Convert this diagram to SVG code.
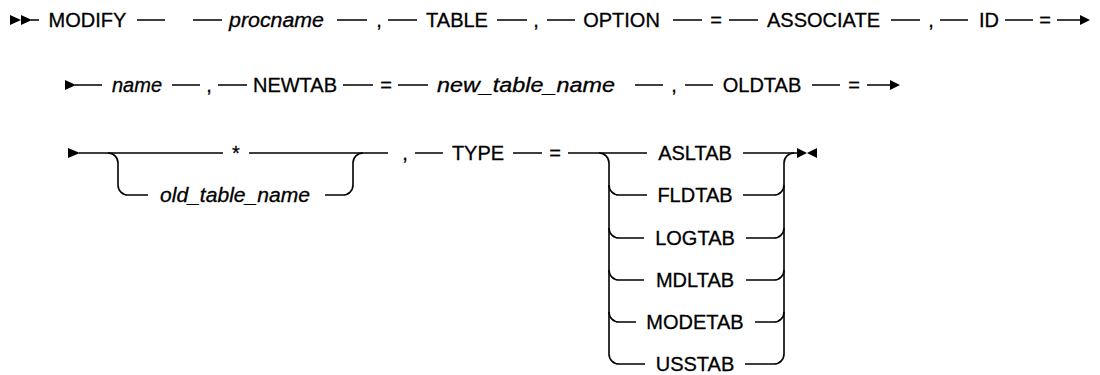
<svg xmlns="http://www.w3.org/2000/svg" width="1100" height="375" viewBox="0 0 1100 375">
<style>
.t{font-family:"Liberation Sans",Arial,sans-serif;font-size:20px;fill:#000;stroke:#000;stroke-width:0.3;text-anchor:middle}
.i{font-style:italic}
.c path{fill:none;stroke:#000;stroke-width:1.6}
.c polygon{fill:#000;stroke:none}
</style>
<rect width="1100" height="375" fill="#fff"/>
<g id="connectors" class="c">
<!-- row 1 -->
<polygon points="10,15 21,20 10,25"/>
<polygon points="21,15 32,20 21,25"/>
<path d="M31 20H39 M137 20H165 M193 20H222 M337 20H367 M388 20H417 M497 20H527 M547 20H575 M673 20H702 M729 20H758 M891 20H920 M940 20H968 M1005 20H1033 M1057 20H1082"/>
<polygon points="1080,15 1090,20 1080,25"/>
<!-- row 2 -->
<polygon points="65,80 76,85 65,90"/>
<path d="M75 85H102 M172 85H200 M218 85H247 M343 85H373 M398 85H428 M635 85H663 M685 85H713 M812 85H840 M867 85H892"/>
<polygon points="890,80 900,85 890,90"/>
<!-- row 3 -->
<polygon points="68,148 80,153 68,158"/>
<path d="M79 153H223 M249 153H388"/>
<path d="M108 153A10 10 0 0 1 118 163V185A10 10 0 0 0 128 195H148"/>
<path d="M325 195H343A10 10 0 0 0 353 185V163A10 10 0 0 1 363 153"/>
<path d="M415 153H443 M513 153H542 M568 153H647 M743 153H798"/>
<path d="M599 153A10 10 0 0 1 609 163V354A10 10 0 0 0 619 364H645"/>
<path d="M609 185A10 10 0 0 0 619 195H647 M609 228A10 10 0 0 0 619 238H644 M609 270A10 10 0 0 0 619 280H644 M609 312A10 10 0 0 0 619 322H636"/>
<path d="M774 364A10 10 0 0 0 784 354V163A10 10 0 0 1 794 153"/>
<path d="M743 195H774A10 10 0 0 0 784 185 M746 238H774A10 10 0 0 0 784 228 M746 280H774A10 10 0 0 0 784 270 M755 322H774A10 10 0 0 0 784 312 M745 364H774"/>
<polygon points="797,148 807,153 797,158"/>
<polygon points="817,148 807,153 817,158"/>
</g>
<g id="n-modify"><text class="t" x="87.5" y="27">MODIFY</text></g>
<g id="n-procname"><text class="t i" x="276.5" y="27" textLength="95" lengthAdjust="spacingAndGlyphs">procname</text></g>
<g id="n-comma1"><text class="t" x="379" y="27">,</text></g>
<g id="n-table"><text class="t" x="457" y="27">TABLE</text></g>
<g id="n-comma2"><text class="t" x="536" y="27">,</text></g>
<g id="n-option"><text class="t" x="621.5" y="27">OPTION</text></g>
<g id="n-eq1"><text class="t" x="716" y="27">=</text></g>
<g id="n-associate"><text class="t" x="823.5" y="27">ASSOCIATE</text></g>
<g id="n-comma3"><text class="t" x="931" y="27">,</text></g>
<g id="n-id"><text class="t" x="989" y="27">ID</text></g>
<g id="n-eq2"><text class="t" x="1045" y="27">=</text></g>
<g id="n-name"><text class="t i" x="137" y="92">name</text></g>
<g id="n-comma4"><text class="t" x="209" y="92">,</text></g>
<g id="n-newtab"><text class="t" x="295" y="92">NEWTAB</text></g>
<g id="n-eq3"><text class="t" x="386" y="92">=</text></g>
<g id="n-new-table-name"><text class="t i" x="526" y="92" textLength="178" lengthAdjust="spacingAndGlyphs">new_table_name</text></g>
<g id="n-comma5"><text class="t" x="674" y="92">,</text></g>
<g id="n-oldtab"><text class="t" x="762" y="92">OLDTAB</text></g>
<g id="n-eq4"><text class="t" x="854" y="92">=</text></g>
<g id="n-star"><text class="t" x="236" y="160">*</text></g>
<g id="n-old-table-name"><text class="t i" x="235" y="202" textLength="150" lengthAdjust="spacingAndGlyphs">old_table_name</text></g>
<g id="n-comma6"><text class="t" x="405" y="160">,</text></g>
<g id="n-type"><text class="t" x="478" y="160">TYPE</text></g>
<g id="n-eq5"><text class="t" x="555" y="160">=</text></g>
<g id="n-asltab"><text class="t" x="695" y="160">ASLTAB</text></g>
<g id="n-fldtab"><text class="t" x="695" y="202">FLDTAB</text></g>
<g id="n-logtab"><text class="t" x="695" y="245">LOGTAB</text></g>
<g id="n-mdltab"><text class="t" x="695" y="287">MDLTAB</text></g>
<g id="n-modetab"><text class="t" x="695" y="329">MODETAB</text></g>
<g id="n-usstab"><text class="t" x="695" y="370.5">USSTAB</text></g>
</svg>
